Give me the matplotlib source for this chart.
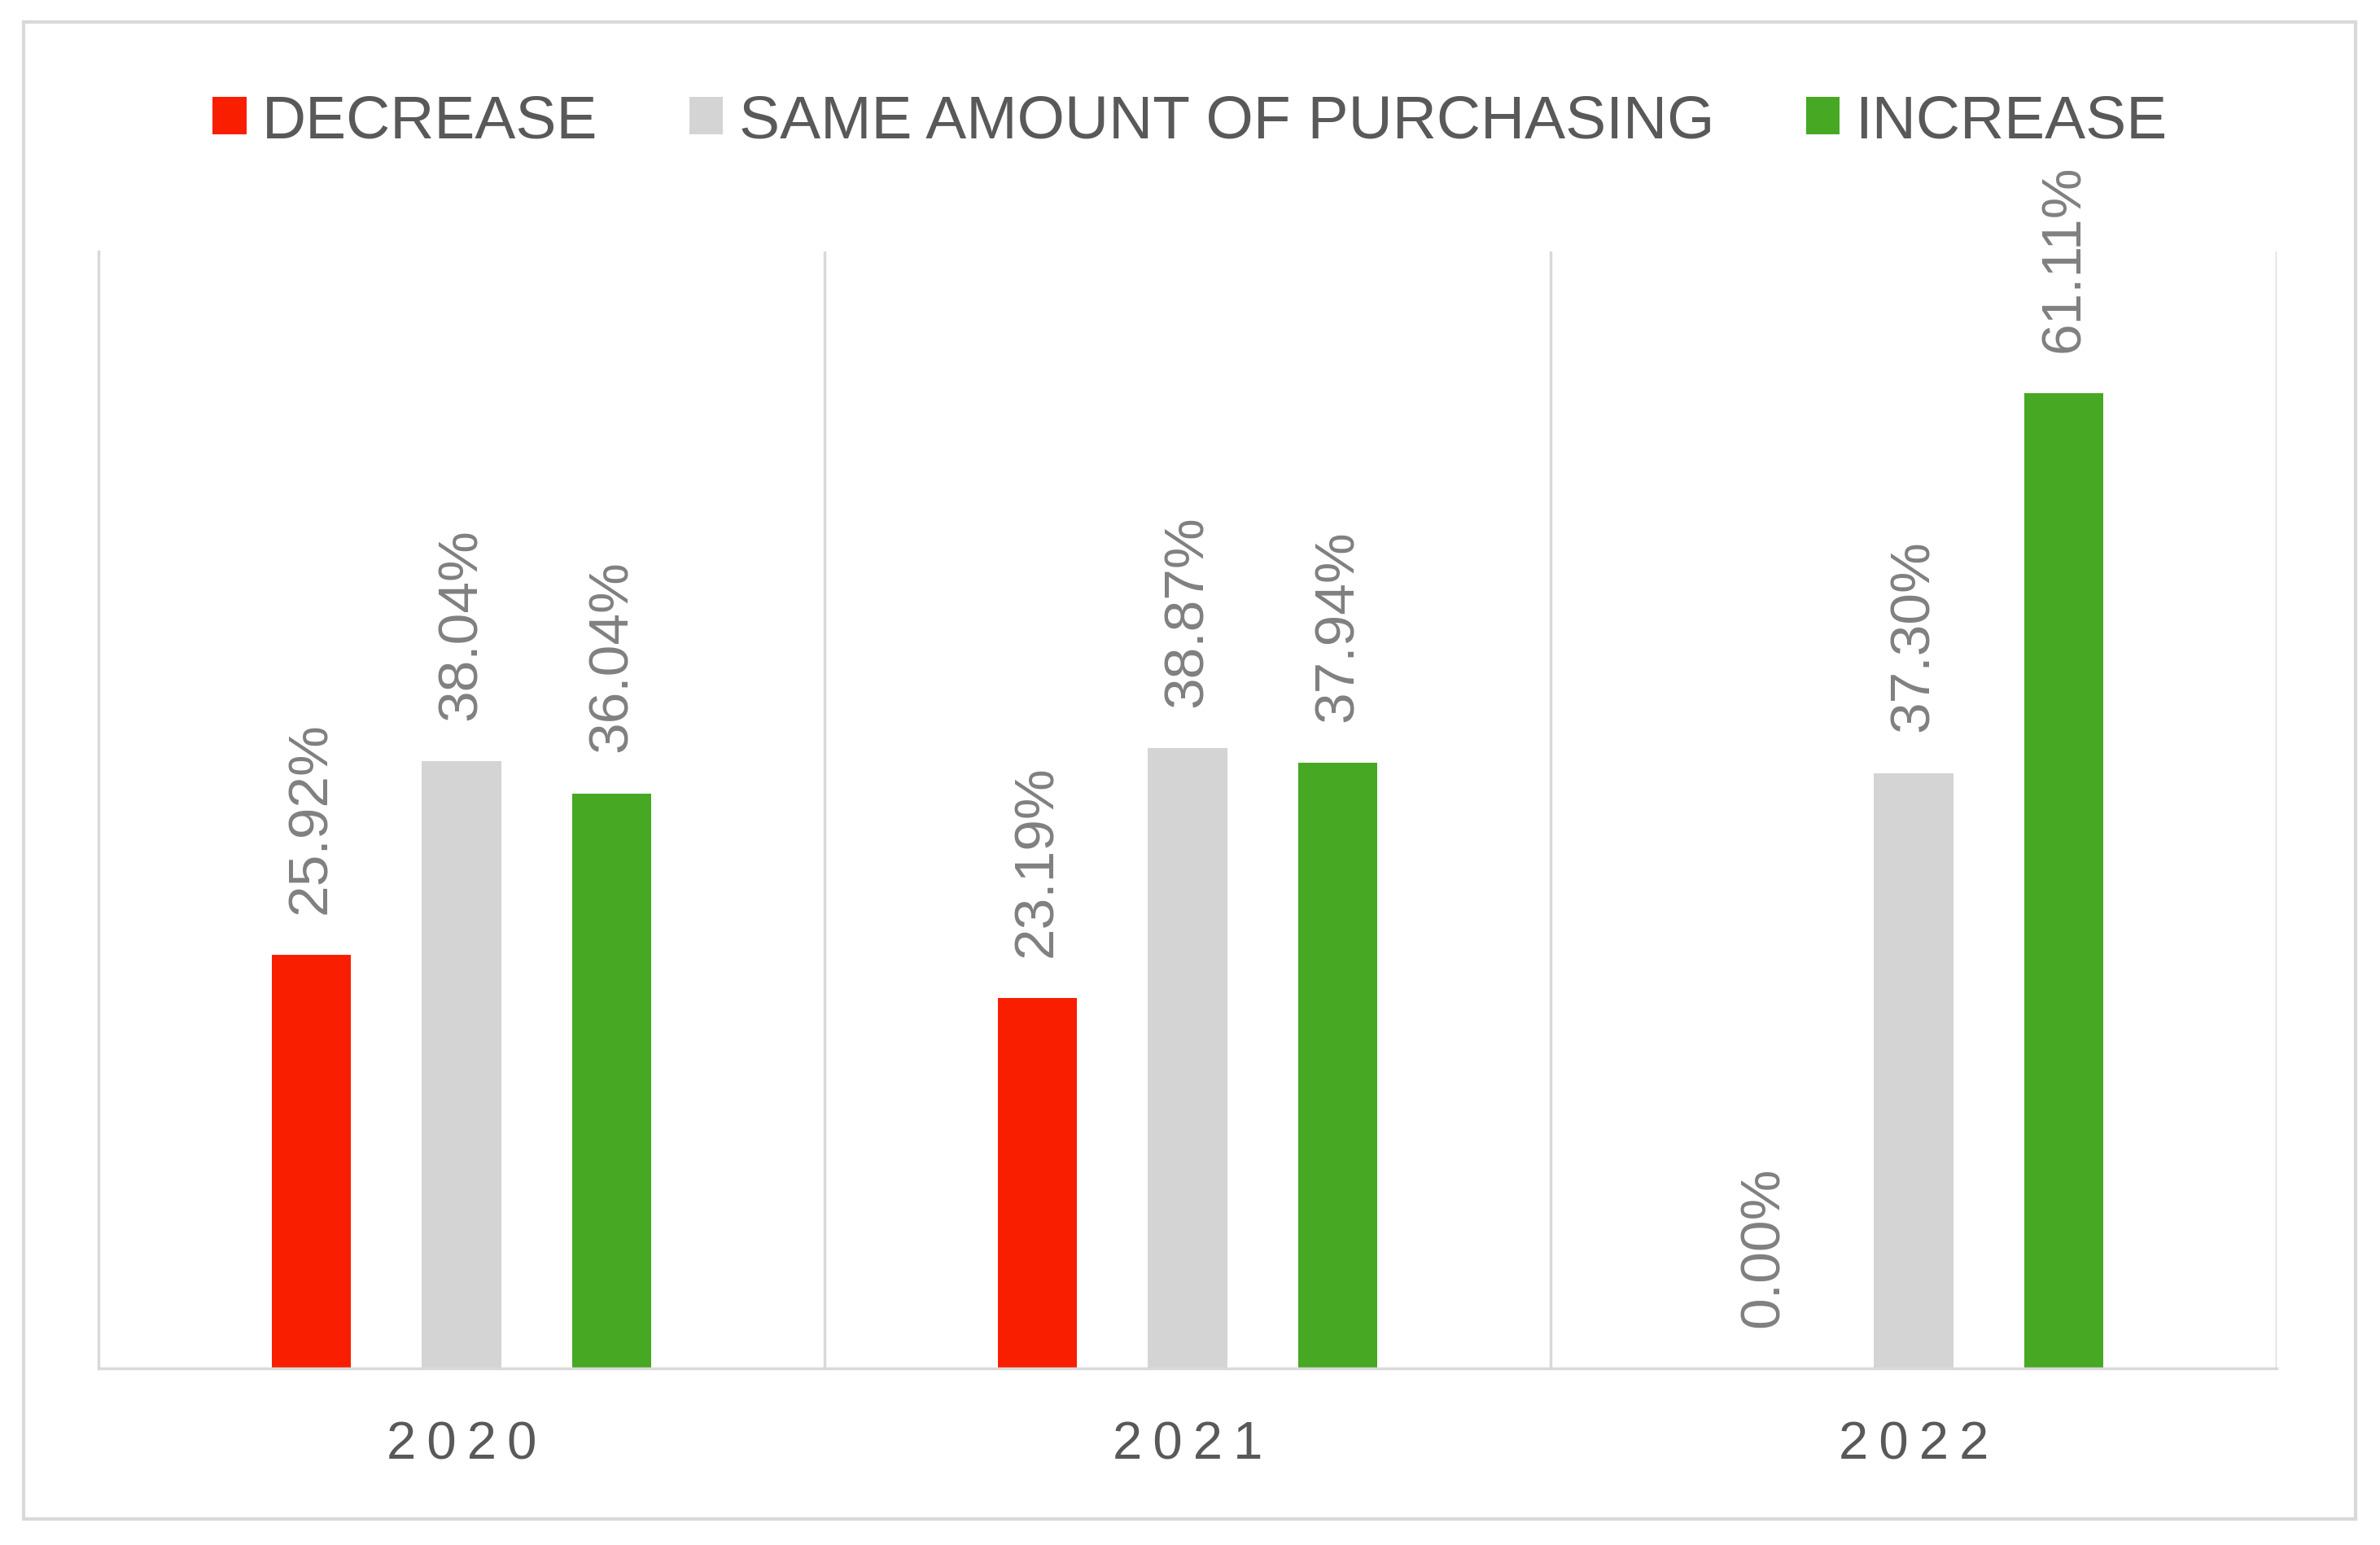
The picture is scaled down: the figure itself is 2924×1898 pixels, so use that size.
import matplotlib
matplotlib.use("Agg")
import matplotlib.pyplot as plt
from matplotlib.patches import Rectangle, Patch
import numpy as np

# data
years = ["2020", "2021", "2022"]
series_names = ["DECREASE", "SAME AMOUNT OF PURCHASING", "INCREASE"]
decrease = [25.92, 23.19, 0.00]
same = [38.04, 38.87, 37.30]
increase = [36.04, 37.94, 61.11]

colors = ["#FA1E00", "#D4D4D4", "#47A823"]
text_dark = "#595959"
label_grey = "#808080"
line_grey = "#D9D9D9"

plt.rcParams['font.family'] = ['Liberation Sans', 'DejaVu Sans']

fig = plt.figure(figsize=(29.24, 18.99), dpi=100)
ax = fig.add_axes([0.0414, 0.1143, 0.9152, 0.7225])

x = np.arange(len(years))
offsets = [-0.207, 0.0, 0.207]
width = 0.109
for vals, name, col, off in zip([decrease, same, increase], series_names, colors, offsets):
    bars = ax.bar(x + off, vals, width, color=col, label=name)
    ax.bar_label(bars, labels=["{:.2f}%".format(v) for v in vals], rotation=90,
                 padding=37, fontsize=50, color=label_grey)

ax.set_xlim(-0.5, 2.5)
ax.set_ylim(0, 70)
ax.set_yticks([])
ax.set_xticks(x)
ax.set_xticklabels(["\u2009".join(y) for y in years], fontsize=47, color=text_dark)
ax.tick_params(axis='x', length=0, pad=46)

for s in ["top", "right"]:
    ax.spines[s].set_visible(False)
for s in ["left", "bottom"]:
    ax.spines[s].set_color(line_grey)
    ax.spines[s].set_linewidth(2.5)

# separators between categories
for b in [0.5, 1.5, 2.5]:
    ax.axvline(b, color=line_grey, linewidth=2.5)

handles = [Patch(facecolor=c) for c in colors]
fig.legend(handles, series_names, loc='center', bbox_to_anchor=(0.5, 0.921), ncol=3,
           frameon=False, fontsize=54, labelcolor=text_dark,
           handlelength=0.55, handleheight=0.55, handletextpad=0.26, columnspacing=1.5)

# outer chart frame
fig.patches.append(Rectangle((0.0099, 0.0169), 0.9798, 0.9684, transform=fig.transFigure,
                             fill=False, edgecolor=line_grey, linewidth=3))

fig.savefig("out.png", dpi=100)
